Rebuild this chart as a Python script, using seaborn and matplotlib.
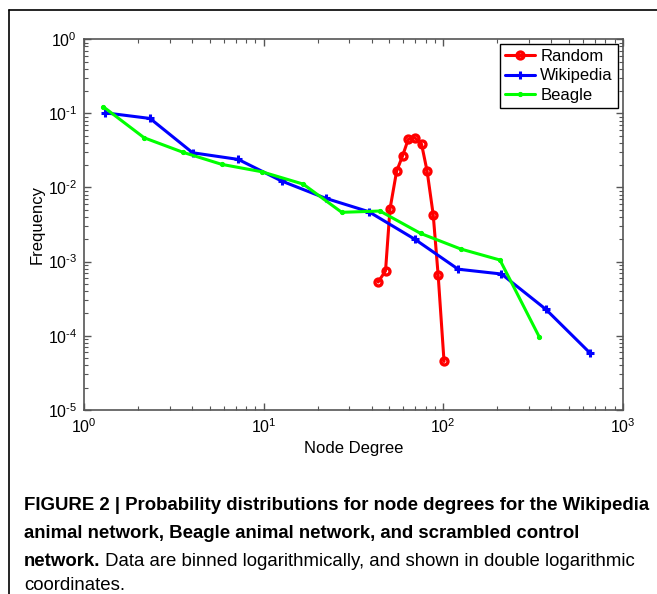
import matplotlib
matplotlib.use("Agg")
import matplotlib.pyplot as plt
import seaborn as sns
from matplotlib import font_manager
from matplotlib.lines import Line2D
from matplotlib.ticker import LogLocator, NullFormatter, FuncFormatter
import numpy as np

# degree bins and frequencies
random_deg = [43.4, 47.7, 50.5, 55, 59.3, 63.8, 69.5, 75.7, 81.3, 87.9, 93.7, 101]
random_freq = [5.3e-4, 7.5e-4, 5.1e-3, 1.66e-2, 2.65e-2, 4.45e-2, 4.68e-2, 3.85e-2, 1.66e-2, 4.3e-3, 6.5e-4, 4.5e-5]

wiki_deg = [1.31, 2.33, 4.02, 7.22, 12.6, 22.2, 38.5, 69.5, 121, 211, 372, 654]
wiki_freq = [0.1016, 0.0853, 0.0294, 0.0239, 0.0122, 0.00713, 0.00471, 0.0020, 7.9e-4, 6.8e-4, 2.28e-4, 5.9e-5]

beagle_deg = [1.28, 2.16, 3.57, 5.84, 9.75, 16.6, 27.2, 44.4, 74.8, 125, 207, 342]
beagle_freq = [0.1225, 0.0468, 0.0297, 0.0205, 0.0163, 0.0111, 0.00462, 0.00481, 0.0024, 0.00148, 0.00105, 9.7e-5]

sns.set_style("ticks")
names = [f.name for f in font_manager.fontManager.ttflist]
narrow = "Liberation Sans Narrow" if "Liberation Sans Narrow" in names else "Liberation Sans"
plt.rcParams["font.family"] = ["Liberation Sans", "DejaVu Sans"]
plt.rcParams["mathtext.fontset"] = "custom"
plt.rcParams["mathtext.rm"] = "Liberation Sans"
plt.rcParams["mathtext.it"] = "Liberation Sans"
plt.rcParams["mathtext.bf"] = "Liberation Sans:bold"
plt.rcParams["text.color"] = "black"
plt.rcParams["axes.labelcolor"] = "black"


def pow_label(v, pos):
    e = int(round(np.log10(v)))
    s = str(e).replace("-", "\u2010")
    return "$\\mathregular{10^{%s}}$" % s


fig = plt.figure(figsize=(6.57, 5.94), dpi=100)
ax = fig.add_axes([0.128, 0.310, 0.820, 0.624])

sns.lineplot(x=random_deg, y=random_freq, ax=ax, color="#ff0000", lw=2.2,
             marker="o", ms=5, mfc="none", mec="#ff0000", mew=2.4, label="Random", sort=False)
sns.lineplot(x=wiki_deg, y=wiki_freq, ax=ax, color="#0000ff", lw=2.2,
             marker="+", ms=6, mew=2.2, mec="#0000ff", label="Wikipedia", sort=False)
sns.lineplot(x=beagle_deg, y=beagle_freq, ax=ax, color="#00ff00", lw=2.2,
             marker=".", ms=6, mec="#00ff00", label="Beagle", sort=False)

ax.set_xscale("log")
ax.set_yscale("log")
ax.set_xlim(1, 1000)
ax.set_ylim(1e-5, 1)
ax.xaxis.set_major_locator(LogLocator(base=10, numticks=10))
ax.yaxis.set_major_locator(LogLocator(base=10, numticks=10))
ax.xaxis.set_minor_locator(LogLocator(base=10, subs=range(2, 10), numticks=20))
ax.yaxis.set_minor_locator(LogLocator(base=10, subs=range(2, 10), numticks=20))
ax.xaxis.set_major_formatter(FuncFormatter(pow_label))
ax.yaxis.set_major_formatter(FuncFormatter(pow_label))
ax.xaxis.set_minor_formatter(NullFormatter())
ax.yaxis.set_minor_formatter(NullFormatter())

for s in ax.spines.values():
    s.set_color("#555555")
    s.set_linewidth(1.2)
ax.tick_params(which="both", direction="in", top=True, right=True, color="#555555", labelsize=11.5, labelcolor="black")
ax.tick_params(which="major", length=5, width=1, pad=5)
ax.tick_params(which="minor", length=3, width=0.8)

ax.set_xlabel("Node Degree", fontsize=12, labelpad=4)
ax.set_ylabel("Frequency", fontsize=12, labelpad=2)

leg = ax.legend(loc="upper right", fontsize=12, handlelength=1.8, borderaxespad=0.3,
                fancybox=False, framealpha=1, edgecolor="black", borderpad=0.3,
                labelspacing=0.25, handletextpad=0.3)
leg.get_frame().set_linewidth(1)

# figure border (left and top)
fig.add_artist(Line2D([8.5 / 657, 8.5 / 657], [0, 1 - 10 / 594], color="black", lw=1.2))
fig.add_artist(Line2D([8.5 / 657, 1], [1 - 10 / 594, 1 - 10 / 594], color="black", lw=1.2))

cap_size = 13.4
x0 = 24 / 657
fig.text(x0, 1 - 506 / 594, "FIGURE 2 | Probability distributions for node degrees for the Wikipedia",
         fontsize=cap_size, fontweight="bold", family=narrow, va="center")
fig.text(x0, 1 - 534 / 594, "animal network, Beagle animal network, and scrambled control",
         fontsize=cap_size, fontweight="bold", family=narrow, va="center")
b = fig.text(x0, 1 - 561 / 594, "network.", fontsize=cap_size, fontweight="bold", family=narrow, va="center")
ax.annotate(" Data are binned logarithmically, and shown in double logarithmic", xy=(1, 0.5),
            xycoords=b, va="center", fontsize=cap_size, family=narrow, annotation_clip=False)
fig.text(x0, 1 - 585 / 594, "coordinates.", fontsize=cap_size, family=narrow, va="center")

fig.savefig("out.png", dpi=100)
